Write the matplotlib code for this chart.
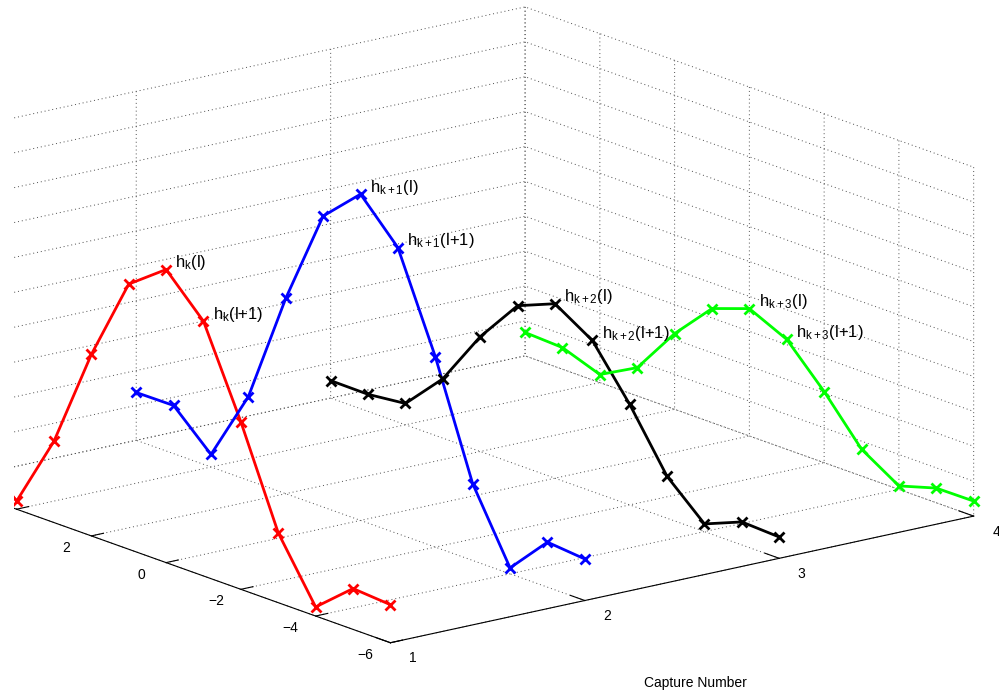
import matplotlib
matplotlib.use('Agg')
import matplotlib.pyplot as plt
from matplotlib.patches import Rectangle

plt.rcParams['font.family'] = ['Liberation Sans', 'DejaVu Sans']
plt.rcParams['mathtext.fontset'] = 'custom'
plt.rcParams['mathtext.rm'] = 'Liberation Sans'
plt.rcParams['mathtext.it'] = 'Liberation Sans:italic'
plt.rcParams['mathtext.default'] = 'regular'

# capture index and the tap positions of each channel snapshot
capture = [1, 2, 3, 4]
taps = [6, 5, 4, 3, 2, 1, 0, -1, -2, -3, -4, -5, -6]
tap_ticks = [-6, -4, -2, 0, 2, 4, 6]

# channel magnitude per capture
h_k = [1.30, 1.30, 0.23, 2.33, 5.20, 7.60, 8.40, 7.30, 4.80, 2.00, 0.26, 1.17, 1.09]
h_k1 = [1.37, 1.38, 0.36, 2.40, 5.60, 8.34, 9.35, 8.20, 5.46, 2.20, 0.17, 1.29, 1.19]
h_k2 = [0.50, 0.49, 0.61, 1.70, 3.29, 4.56, 5.00, 4.33, 2.88, 1.20, 0.22, 0.66, 0.61]
h_k3 = [0.67, 0.62, 0.23, 0.81, 2.17, 3.27, 3.65, 3.15, 2.04, 0.77, 0.10, 0.42, 0.43]

series = [h_k, h_k1, h_k2, h_k3]
colors = ['#ff0000', '#0000ff', '#000000', '#00ff00']
subs = ['k', 'k+1', 'k+2', 'k+3']

fig = plt.figure(figsize=(9.99, 6.93), dpi=100)
ax = fig.add_axes([-0.1157, -0.296, 1.1176, 1.611], projection='3d', proj_type='ortho')
ax.view_init(elev=16.17, azim=-127.94)
ax.set_box_aspect((741.8, 731.8, 364.4), zoom=0.957)

for cap, vals, col, sub in zip(capture, series, colors, subs):
    ax.plot([cap] * len(taps), taps, vals, color=col, linewidth=2.0,
            marker='x', markersize=7, markeredgewidth=2.0)
    # label the two central taps
    ax.text(cap, taps[6] - 0.25, vals[6] + 0.3, r'h$_{%s}$(l)' % sub,
            ha='left', va='center', fontsize=12)
    ax.text(cap, taps[7] - 0.25, vals[7] + 0.3, r'h$_{%s}$(l+1)' % sub,
            ha='left', va='center', fontsize=12)

ax.set_xlim(1, 4)
ax.set_ylim(-6, 6)
ax.set_zlim(0, 10)
ax.set_xticks(capture)
ax.set_yticks(tap_ticks)
ax.set_zticks(range(0, 11))

for axis in (ax.xaxis, ax.yaxis, ax.zaxis):
    axis.set_tick_params(label1On=False)
    axis.set_pane_color((1, 1, 1, 0))
    axis._axinfo['grid'].update(color='0.3', linewidth=0.7, linestyle=(0, (1, 3)))
    axis._axinfo['tick'].update(inward_factor=0.0)
    axis.line.set_color('black')
    axis.line.set_linewidth(0.8)
ax.xaxis._axinfo['tick'].update(outward_factor=0.4)
ax.yaxis._axinfo['tick'].update(outward_factor=0.26)
ax.zaxis._axinfo['tick'].update(outward_factor=0.0)
ax.zaxis.line.set_visible(False)

# tick labels placed beside the front edges
for xv in capture:
    ax.text(xv, -6.6, -0.22, str(xv), ha='center', va='center', fontsize=10)
for yv in tap_ticks:
    ax.text(0.872, yv, -0.19, str(yv).replace('-', '\u2212'),
            ha='center', va='center', fontsize=10)

fig.text(0.6957, 0.0144, 'Capture Number', ha='center', va='center', fontsize=10)

# blank strip on the left edge
fig.patches.append(Rectangle((0, 0), 14 / 999, 1, transform=fig.transFigure,
                             facecolor='white', edgecolor='none', zorder=10))

fig.savefig('out.png', dpi=100)
